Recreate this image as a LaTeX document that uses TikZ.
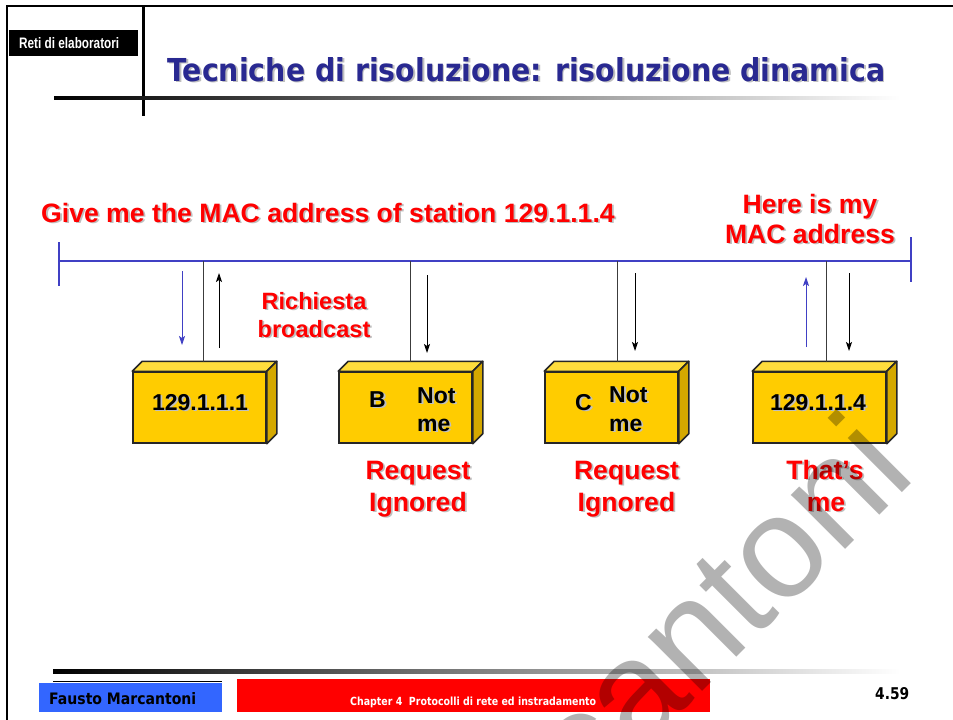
\documentclass[tikz,border=0pt]{standalone}
\usepackage{fontspec}
\usepackage{graphicx}
\setmainfont{Liberation Sans}
\newfontfamily\headfont{DejaVu Sans}
\usetikzlibrary{arrows.meta,calc}

\definecolor{busblue}{RGB}{64,64,196}
\definecolor{titleblue}{RGB}{41,41,145}
\definecolor{boxfront}{RGB}{255,204,0}
\definecolor{boxtop}{RGB}{255,221,60}
\definecolor{boxside}{RGB}{212,168,0}
\definecolor{footblue}{RGB}{51,102,255}
\definecolor{dropgray}{RGB}{60,60,60}

% text with a soft grey drop shadow behind it
\newcommand\shadowed[4]{%
  \node[#2, shadowtxt] (#1-sh) at ($#3+(1.8,1.8)$) {#4};
  \node[#2] (#1) at #3 {#4};}

% a 3D station box: name, left edge of the front face
\newcommand\station[2]{%
  \node[front] (#1) at (#2+66.5,407.5) {};
  \filldraw[boxedge, fill=boxtop] (#1.north west) -- ++(10,-10)
     -- ($(#1.north east)+(10,-10)$) -- (#1.north east) -- cycle;
  \filldraw[boxedge, fill=boxside] (#1.north east) -- ++(10,-10)
     -- ($(#1.south east)+(10,-10)$) -- (#1.south east) -- cycle;}

\begin{document}
\begin{tikzpicture}[x=1pt,y=-1pt,
  shadowtxt/.style={text=black!25},
  redbig/.style={text=red, inner sep=0, anchor=base, font=\fontsize{26.6}{32}\selectfont\bfseries},
  redmid/.style={text=red, inner sep=0, anchor=base, font=\fontsize{23.6}{28}\selectfont\bfseries},
  boxtxt/.style={text=black, inner sep=0, font=\fontsize{23}{27}\selectfont\bfseries},
  front/.style={rectangle, draw=black!85, line width=1.5pt, fill=boxfront,
                minimum width=133pt, minimum height=71pt, inner sep=0},
  boxedge/.style={draw=black!85, line width=1.5pt, line join=round},
  drop/.style={draw=dropgray, line width=1pt},
  arrk/.style={-{Stealth[length=9pt,width=6pt,inset=2pt]}, line width=0.9pt, black},
  arrb/.style={-{Stealth[length=9pt,width=6pt,inset=2pt]}, line width=0.9pt, busblue},
  bus/.style={draw=busblue, line width=1.1pt}]

\useasboundingbox (0,0) rectangle (953,720);
\fill[white] (0,0) rectangle (953,720);

% slide frame and header
\draw[line width=2pt] (7,720) -- (7,6) -- (953,6);
\draw[line width=3pt] (143,6) -- (143,116);
\shade[left color=black, right color=white] (54,96.5) rectangle (900,99.5);
\node[fill=black, anchor=north west, minimum width=129pt, minimum height=26pt, inner sep=0] (retibox) at (9,30) {};
\node[anchor=base west, inner sep=0, text=white] (reti) at (19,48)
  {\resizebox{100pt}{11pt}{\bfseries Reti di elaboratori}};
\shadowed{title}{anchor=base west, inner sep=0, text=titleblue}{(167,81)}
  {\resizebox{718pt}{24pt}{\headfont\bfseries Tecniche di risoluzione: risoluzione dinamica}}

% LAN bus
\coordinate (busL) at (59,261);
\coordinate (busR) at (911,261);
\draw[bus] (busL) -- (busR);
\draw[bus] ($(busL)+(0,-19)$) -- ($(busL)+(0,25)$);
\draw[bus] ($(busR)+(0,-24)$) -- ($(busR)+(0,21)$);

% stations
\station{s1}{133}
\station{s2}{339}
\station{s3}{545}
\station{s4}{753}

% drops from the bus to each station
\coordinate (d1) at (203,362);
\coordinate (d2) at (410,362);
\coordinate (d3) at (617,362);
\coordinate (d4) at (826,362);
\foreach \d in {d1,d2,d3,d4} \draw[drop] (\d) -- (\d |- busL);

% message arrows
\coordinate (a1s) at (182,271); \coordinate (a1e) at (182,345);
\coordinate (a2s) at (219,348); \coordinate (a2e) at (219,273);
\coordinate (a3s) at (427,275); \coordinate (a3e) at (427,353);
\coordinate (a4s) at (635,273); \coordinate (a4e) at (635,351);
\coordinate (a5s) at (806,347); \coordinate (a5e) at (806,277);
\coordinate (a6s) at (849,273); \coordinate (a6e) at (849,351);
\draw[arrb] (a1s) -- (a1e);
\draw[arrk] (a2s) -- (a2e);
\draw[arrk] (a3s) -- (a3e);
\draw[arrk] (a4s) -- (a4e);
\draw[arrb] (a5s) -- (a5e);
\draw[arrk] (a6s) -- (a6e);

% station labels
\shadowed{ip1}{boxtxt, anchor=base}{(200,410)}{129.1.1.1}
\shadowed{bl}{boxtxt, anchor=base west}{(369,407)}{B}
\shadowed{bnot}{boxtxt, anchor=base west}{(417,403)}{Not}
\shadowed{bme}{boxtxt, anchor=base west}{(417,431)}{me}
\shadowed{cl}{boxtxt, anchor=base west}{(575,410)}{C}
\shadowed{cnot}{boxtxt, anchor=base west}{(609,402)}{Not}
\shadowed{cme}{boxtxt, anchor=base west}{(609,431)}{me}
\shadowed{ip4}{boxtxt, anchor=base}{(818,410)}{129.1.1.4}

% red captions
\shadowed{give}{redbig, anchor=base west}{(41,222)}{Give me the MAC address of station 129.1.1.4}
\shadowed{here1}{redbig}{(810,213)}{Here is my}
\shadowed{here2}{redbig}{(810,243)}{MAC address}
\shadowed{rich1}{redmid}{(314,309)}{Richiesta}
\shadowed{rich2}{redmid}{(314,337)}{broadcast}
\shadowed{reqb1}{redbig}{(418,479)}{Request}
\shadowed{reqb2}{redbig}{(418,511)}{Ignored}
\shadowed{reqc1}{redbig}{(626.5,479)}{Request}
\shadowed{reqc2}{redbig}{(626.5,511)}{Ignored}
\shadowed{me1}{redbig}{(825,479)}{That’s}
\shadowed{me2}{redbig}{(826,511)}{me}

% footer
\shade[left color=black, right color=white] (53,669) rectangle (900,673);
\draw[line width=1.2pt] (53,681.5) -- (222,681.5);
\node[fill=footblue, anchor=north west, minimum width=183pt, minimum height=29pt, inner sep=0] (fblue) at (39,683) {};
\node[anchor=base west, inner sep=0] (author) at (49,704)
  {\resizebox{147pt}{12pt}{\headfont\bfseries Fausto Marcantoni}};
\node[fill=red, anchor=north west, minimum width=473pt, minimum height=33pt, inner sep=0] (fred) at (237,679) {};
\node[anchor=base west, inner sep=0, text=white] (chapter) at (350,705)
  {\resizebox{246pt}{8.5pt}{\headfont\bfseries Chapter 4~~Protocolli di rete ed instradamento}};
\node[anchor=base west, inner sep=0] (page) at (875,699)
  {\resizebox{34pt}{12pt}{\headfont\bfseries 4.59}};

% watermark
\node[rotate=45, anchor=base east, inner sep=0, text=black, text opacity=0.3,
      font=\fontsize{145}{145}\selectfont] (wm) at (918,476) {Marcantoni};
\end{tikzpicture}
\end{document}
